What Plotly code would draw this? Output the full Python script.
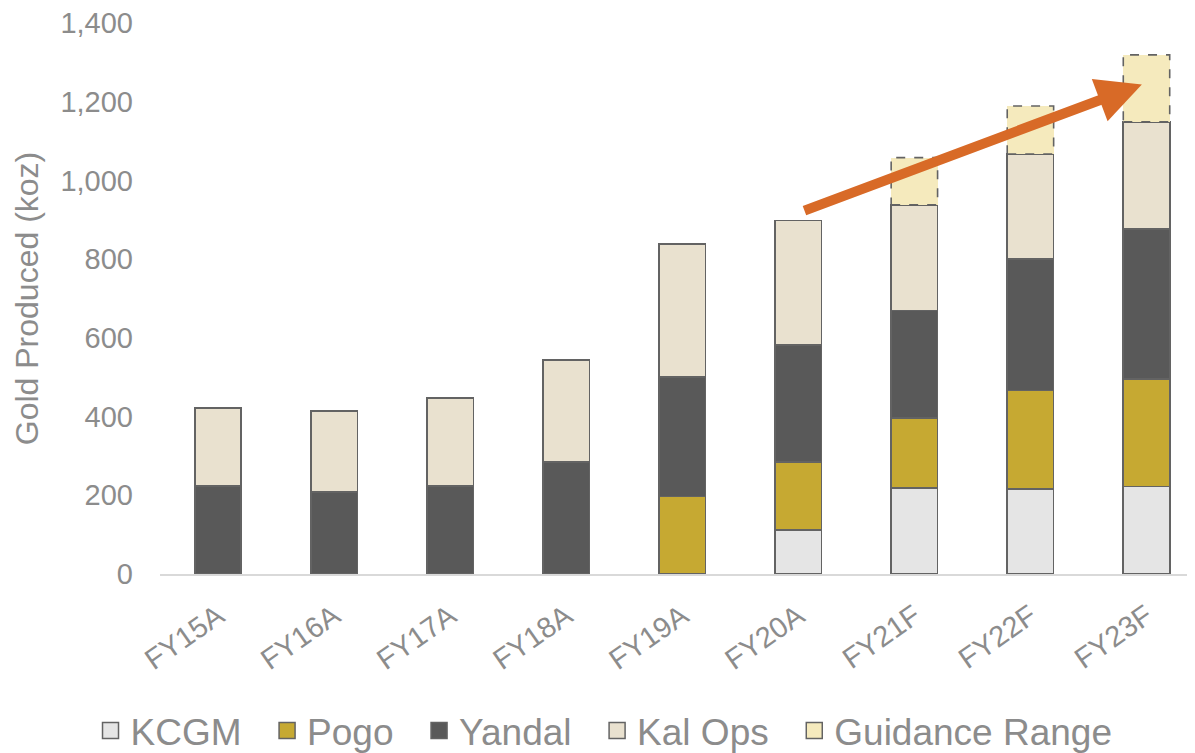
import plotly.graph_objects as go

# values (koz)
years = ["FY15A", "FY16A", "FY17A", "FY18A", "FY19A", "FY20A", "FY21F", "FY22F", "FY23F"]
kcgm = [None, None, None, None, None, 112, 218, 216, 222]
pogo = [None, None, None, None, 197, 172, 178, 250, 274]
yandal = [224, 209, 224, 285, 303, 298, 274, 334, 380]
kal_ops = [198, 205, 223, 259, 339, 316, 268, 267, 273]
guidance = [None, None, None, None, None, None, 120, 122, 170]

y_ticks = [0, 200, 400, 600, 800, 1000, 1200, 1400]

# arrow from FY20A up to FY23F (category index, koz)
arrow_start = (5.04, 922)
arrow_end = (7.96, 1244)

FONT = "Liberation Sans, Arial, sans-serif"
GREY_TXT = "#8c8c8c"
EDGE = "#636363"
BAR_W = 0.4
PAD = "\u00a0\u00a0"  # extra room between legend entries

series = [
    ("KCGM", kcgm, "#e5e5e5"),
    ("Pogo", pogo, "#c6a932"),
    ("Yandal", yandal, "#595959"),
    ("Kal Ops", kal_ops, "#e9e1cf"),
]

fig = go.Figure()

for name, vals, col in series:
    fig.add_trace(go.Bar(
        x=years, y=vals, name=name, width=BAR_W,
        marker=dict(color=col, line=dict(color=EDGE, width=1.6)),
        showlegend=False,
    ))

fig.add_trace(go.Bar(
    x=years, y=guidance, name="Guidance Range", width=BAR_W,
    marker=dict(color="#f5eabd", line=dict(width=0)),
    showlegend=False,
))

# dashed outline around guidance boxes
shapes = []
for i, g in enumerate(guidance):
    if g is None:
        continue
    base = sum(v or 0 for v in (kcgm[i], pogo[i], yandal[i], kal_ops[i]))
    shapes.append(dict(
        type="rect", xref="x", yref="y",
        x0=i - BAR_W / 2, x1=i + BAR_W / 2, y0=base, y1=base + g,
        line=dict(color=EDGE, width=1.6, dash="dash"),
    ))

# legend entries with larger square swatches
legend_items = [(n + PAD, c) for n, _, c in series] + [("Guidance Range", "#f5eabd")]
for name, col in legend_items:
    fig.add_trace(go.Scatter(
        x=[None], y=[None], mode="markers", name=name,
        marker=dict(symbol="square", size=16, color=col,
                    line=dict(color=EDGE, width=1.5)),
    ))

fig.add_annotation(
    x=arrow_end[0], y=arrow_end[1], ax=arrow_start[0], ay=arrow_start[1],
    xref="x", yref="y", axref="x", ayref="y",
    text="", showarrow=True, arrowhead=2, arrowsize=0.9,
    arrowwidth=10, arrowcolor="#d86a27",
)

fig.update_layout(
    width=1195, height=753,
    margin=dict(l=152, r=8, t=15, b=187, autoexpand=False),
    barmode="stack",
    plot_bgcolor="white", paper_bgcolor="white",
    font=dict(family=FONT, color=GREY_TXT),
    shapes=shapes,
    legend=dict(
        orientation="h", x=0.429, xanchor="center",
        y=-0.285, yanchor="middle", traceorder="normal",
        font=dict(size=37, color=GREY_TXT), itemwidth=30,
    ),
    xaxis=dict(
        type="category", range=[-0.5, 8.418],
        showline=True, linecolor="#d9d9d9", linewidth=1.5,
        tickangle=-35, tickfont=dict(size=29, color=GREY_TXT),
        ticklabelstandoff=12,
        showgrid=False, ticks="",
    ),
    yaxis=dict(
        range=[0, 1400], tickvals=y_ticks, tickformat=",",
        showgrid=False, zeroline=False, showline=False,
        ticklabeloverflow="allow",
        tickfont=dict(size=29, color=GREY_TXT), ticklabelstandoff=26,
        title=dict(text="Gold Produced (koz)", font=dict(size=32, color=GREY_TXT),
                   standoff=12),
    ),
)

fig.write_html("out.html")
